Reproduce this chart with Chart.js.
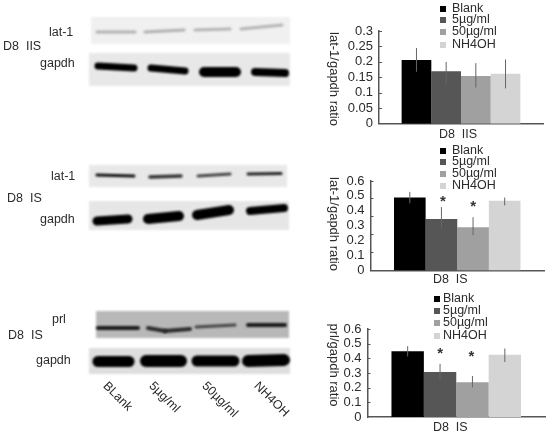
<!DOCTYPE html>
<html>
<head>
<meta charset="utf-8">
<title>D8 lat-1 / prl western blots</title>
<script src="https://cdn.jsdelivr.net/npm/chart.js@4/dist/chart.umd.min.js"></script>
<style>
  html, body { margin: 0; padding: 0; background: #fff; }
  #page { position: relative; width: 550px; height: 435px; overflow: hidden; filter: blur(0.4px); }
  canvas { position: absolute; }
</style>
</head>
<body>
<div id="page">
  <canvas id="blots" width="320" height="435" style="left:0;top:0"></canvas>
  <div style="position:absolute;left:320px;top:0;width:230px;height:145px"><canvas id="chart1"></canvas></div>
  <div style="position:absolute;left:320px;top:145px;width:230px;height:145px"><canvas id="chart2"></canvas></div>
  <div style="position:absolute;left:320px;top:290px;width:230px;height:150px"><canvas id="chart3"></canvas></div>
</div>
<script>
const groups = ["Blank", "5µg/ml", "50µg/ml", "NH4OH"];
const blotLabels = ["BLank", "5µg/ml", "50µg/ml", "NH4OH"];
const groupColors = ["#000000", "#565656", "#a0a0a0", "#d4d4d4"];

// bar heights and error bar ends
const iisValues = [0.206, 0.17, 0.154, 0.162];
const iisHigh = [0.245, 0.2, 0.196, 0.208];
const iisLow = [0.168, 0.126, 0.117, 0.114];
const iisTicks = [0.05, 0.1, 0.15, 0.2, 0.25, 0.3];

const isValues = [0.489, 0.345, 0.289, 0.468];
const isHigh = [0.527, 0.425, 0.357, 0.489];
const isLow = [0.451, 0.282, 0.236, 0.436];
// the inner tick marks on this panel don't line up with its labels
const isTicks = [0.123, 0.243, 0.364, 0.486, 0.6];

const prlValues = [0.448, 0.308, 0.237, 0.425];
const prlHigh = [0.483, 0.363, 0.28, 0.467];
const prlLow = [0.413, 0.253, 0.202, 0.375];
const prlTicks = [0.1, 0.2, 0.3, 0.4, 0.5, 0.6];

const FONT = '"Liberation Sans", Arial, sans-serif';
const TEXT = "#2b2b2b";
const AXIS = "#555";

// everything that isn't on the scales: legend, y title, stars, error bars
const extras = {
  id: "extras",
  afterDatasetsDraw(chart, args, opts) {
    const c = chart.ctx;
    const y = chart.scales.y;
    c.save();
    c.strokeStyle = AXIS;
    c.lineWidth = 1;
    opts.tickMarks.forEach((v) => {
      const py = Math.round(y.getPixelForValue(v)) + 0.5;
      c.beginPath();
      c.moveTo(y.right, py);
      c.lineTo(y.right + 3, py);
      c.stroke();
    });
    chart.data.datasets.forEach((ds, i) => {
      const bar = chart.getDatasetMeta(i).data[0];
      c.strokeStyle = "#666";
      c.beginPath();
      c.moveTo(bar.x, y.getPixelForValue(opts.high[i]));
      c.lineTo(bar.x, y.getPixelForValue(opts.low[i]));
      c.stroke();
    });
    c.fillStyle = "#333";
    c.font = "bold 15px " + FONT;
    c.textAlign = "center";
    c.textBaseline = "middle";
    opts.stars.forEach((i) => {
      const bar = chart.getDatasetMeta(i).data[0];
      c.fillText("*", bar.x + opts.starDx[i], y.getPixelForValue(opts.high[i]) + opts.starDy[i]);
    });

    // legend sits on top of the plot, one row per group
    c.font = "12.5px " + FONT;
    c.textAlign = "left";
    chart.data.datasets.forEach((ds, i) => {
      const ly = opts.legendY[i];
      c.fillStyle = ds.backgroundColor;
      c.fillRect(opts.legendX, ly - 3, 6, 6);
      c.fillStyle = TEXT;
      c.fillText(ds.label, opts.legendX + opts.legendGap, ly);
    });

    c.translate(opts.titleX, opts.titleY);
    c.rotate(Math.PI / 2);
    c.font = "13px " + FONT;
    c.textAlign = "center";
    c.fillStyle = TEXT;
    c.fillText(opts.title, 0, 0);
    c.restore();
  },
};

function barChart(id, label, values, cfg) {
  return new Chart(document.getElementById(id), {
    type: "bar",
    data: {
      labels: [label],
      datasets: groups.map((g, i) => ({
        label: g,
        data: [values[i]],
        backgroundColor: groupColors[i],
        borderWidth: 0,
        barPercentage: 1,
        categoryPercentage: cfg.catPct,
      })),
    },
    options: {
      responsive: true,
      maintainAspectRatio: false,
      animation: false,
      layout: { padding: cfg.padding },
      plugins: {
        legend: { display: false },
        tooltip: { enabled: false },
        extras: cfg.extras,
      },
      scales: {
        x: {
          grid: { display: false, drawTicks: false },
          border: { color: AXIS, width: 1.5 },
          ticks: {
            color: TEXT,
            font: { family: FONT, size: 12.5 },
            padding: cfg.xPad,
            labelOffset: cfg.xOffset,
            maxRotation: 0,
          },
        },
        y: {
          min: 0,
          max: cfg.max,
          afterFit(s) { s.width = cfg.yWidth; },
          grid: { display: false, drawTicks: false },
          border: { color: AXIS, width: 1.5 },
          ticks: {
            stepSize: cfg.step,
            autoSkip: false,
            color: TEXT,
            font: { family: FONT, size: 13 },
            padding: 6,
            callback: (v) => String(Math.round(v * 100) / 100),
          },
        },
      },
    },
    plugins: [extras],
  });
}

barChart("chart1", "D8  IIS", iisValues, {
  max: 0.3, step: 0.05, catPct: 0.724,
  padding: { left: 0, right: 7, top: 31, bottom: 0.3 },
  yWidth: 59, xPad: 3, xOffset: -3,
  extras: {
    high: iisHigh, low: iisLow, stars: [], starDx: [], starDy: [], tickMarks: iisTicks,
    legendX: 120, legendGap: 12, legendY: [9, 20, 32, 45],
    title: "lat-1/gapdh ratio", titleX: 14, titleY: 79,
  },
});

barChart("chart2", "D8  IS", isValues, {
  max: 0.6, step: 0.1, catPct: 0.729,
  padding: { left: 0, right: 6, top: 36, bottom: 0.6 },
  yWidth: 50.5, xPad: 2, xOffset: -7,
  extras: {
    high: isHigh, low: isLow, stars: [1, 2], starDx: [0, 1.5, 0, 0], starDy: [0, -5, -10, 0], tickMarks: isTicks,
    legendX: 120, legendGap: 12, legendY: [6, 17, 29, 41],
    title: "lat-1/gapdh ratio", titleX: 14, titleY: 79,
  },
});

barChart("chart3", "D8  IS", prlValues, {
  max: 0.6, step: 0.1, catPct: 0.73,
  padding: { left: 0, right: 5, top: 39, bottom: 1.9 },
  yWidth: 47.5, xPad: 3, xOffset: -6,
  extras: {
    high: prlHigh, low: prlLow, stars: [1, 2], starDx: [0, 0, -1, 0], starDy: [0, -10, -19, 0], tickMarks: prlTicks,
    legendX: 114, legendGap: 9, legendY: [9, 21, 33, 46],
    title: "prl/gapdh ratio", titleX: 14, titleY: 75,
  },
});

// western blot photos on the left, painted as soft strips
const blots = [
  { rect: [91, 17, 199, 27], bg: "#f0f0f0", bands: [
    [97, 32, 135, 32, 3, "#b0b0b0"], [145, 32, 184, 30, 3, "#b0b0b0"],
    [195, 30, 230, 29, 3, "#b4b4b4"], [241, 29, 282, 25, 3, "#b4b4b4"]] },
  { rect: [89, 53, 201, 33], bg: "#e8e8e8", bands: [
    [98, 66, 134, 68, 7, "#000"], [151, 68, 185, 71, 7, "#000"],
    [204, 72, 236, 72, 10, "#000"], [255, 72, 285, 73, 8, "#000"]] },
  { rect: [89, 165, 198, 22], bg: "#e8e8e8", bands: [
    [97, 175, 134, 176, 3, "#111"], [150, 177, 181, 176, 3.5, "#333"],
    [198, 176, 230, 174, 3, "#444"], [248, 174, 281, 173.5, 3, "#222"]] },
  { rect: [89, 201, 200, 29], bg: "#e6e6e6", bands: [
    [97, 221, 128, 219, 9, "#000"], [148, 219, 179, 216, 10, "#000"],
    [197, 215, 229, 210, 10, "#000"], [250, 211, 284, 208, 8, "#000"]] },
  { rect: [96, 311, 193, 27], bg: "#b8b8b8", bands: [
    [98, 328, 138, 328, 4, "#1a1a1a"], [148, 328, 165, 331, 4, "#2a2a2a"], [165, 331, 190, 329, 4, "#2a2a2a"],
    [196, 327, 235, 325, 3, "#444"], [248, 325, 285, 325, 4, "#1a1a1a"]] },
  { rect: [89, 348, 201, 26], bg: "#dedede", bands: [
    [98, 361.5, 129, 361.5, 11, "#000"], [146, 361, 181, 361, 12, "#000"],
    [197, 361, 234, 361, 11, "#000"], [248, 361, 284, 360, 12, "#000"]] },
];
const blotText = [
  ["lat-1", 49, 33], ["gapdh", 40, 64], ["D8  IIS", 3, 47],
  ["lat-1", 51, 177], ["D8  IS", 7, 199], ["gapdh", 40, 220],
  ["prl", 52, 320], ["D8  IS", 8, 336], ["gapdh", 36, 361],
];
const laneLabelX = [105, 151, 204, 256];

const b = document.getElementById("blots").getContext("2d");
blots.forEach((blot) => {
  const [x, y, w, h] = blot.rect;
  b.filter = "blur(0.8px)";
  b.fillStyle = blot.bg;
  b.fillRect(x, y, w, h);
  b.lineCap = "round";
  blot.bands.forEach(([x0, y0, x1, y1, lw, col]) => {
    b.strokeStyle = col;
    b.lineWidth = lw;
    b.beginPath();
    b.moveTo(x0, y0);
    b.lineTo(x1, y1);
    b.stroke();
  });
});
b.filter = "none";
b.fillStyle = TEXT;
b.font = "12.5px " + FONT;
b.textBaseline = "middle";
blotText.forEach(([t, x, y]) => b.fillText(t, x, y));
blotLabels.forEach((t, i) => {
  b.save();
  b.translate(laneLabelX[i], 384);
  b.rotate(Math.PI / 4);
  b.fillText(t, 0, 0);
  b.restore();
});
</script>
</body>
</html>
